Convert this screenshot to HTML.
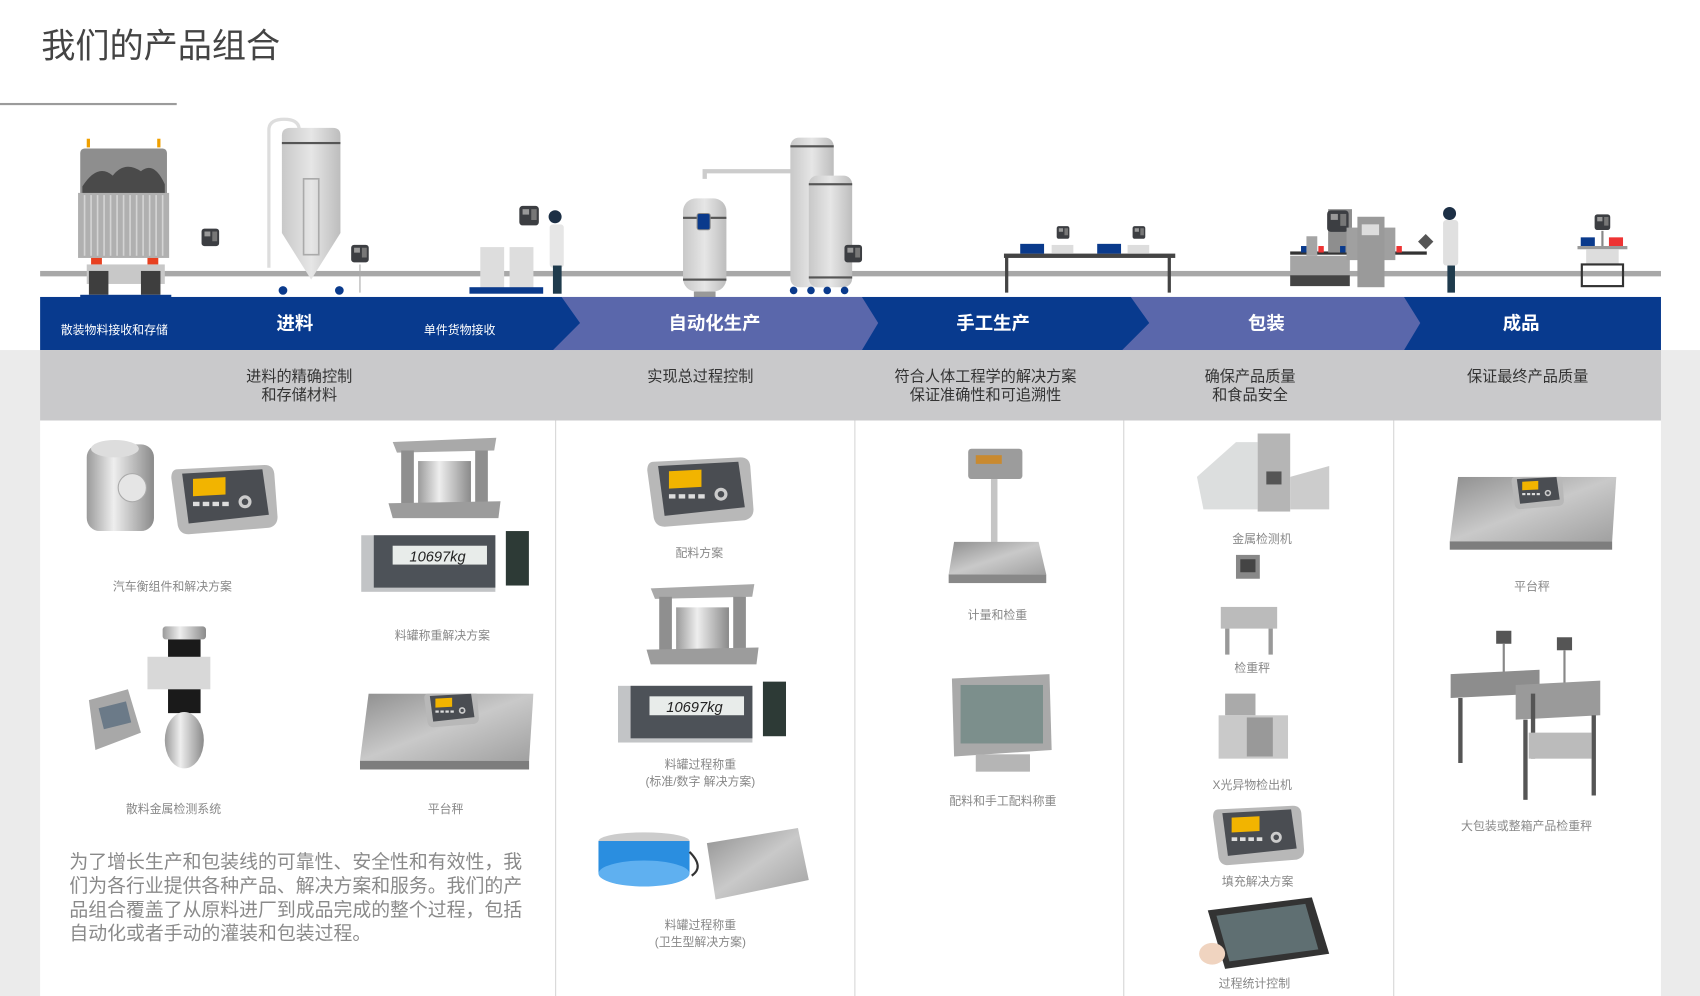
<!DOCTYPE html>
<html><head><meta charset="utf-8">
<style>
html,body{margin:0;padding:0;background:#fff;}
svg{display:block;}
text{font-family:"Liberation Sans","Noto Sans CJK SC",sans-serif;}
</style></head>
<body>
<svg width="1700" height="996" viewBox="0 0 1568 919" preserveAspectRatio="none" xmlns="http://www.w3.org/2000/svg">
<defs>
<linearGradient id="metal" x1="0" y1="0" x2="1" y2="0">
<stop offset="0" stop-color="#9a9a9a"/><stop offset="0.4" stop-color="#eeeeee"/><stop offset="1" stop-color="#8a8a8a"/></linearGradient>
<linearGradient id="plate" x1="0" y1="0" x2="1" y2="1">
<stop offset="0" stop-color="#8f8f8f"/><stop offset="0.5" stop-color="#c9c9c9"/><stop offset="1" stop-color="#a0a0a0"/></linearGradient>
<linearGradient id="silo" x1="0" y1="0" x2="1" y2="0">
<stop offset="0" stop-color="#c8c8c8"/><stop offset="0.5" stop-color="#e6e6e6"/><stop offset="1" stop-color="#bdbdbd"/></linearGradient>
<symbol id="term" viewBox="0 0 100 70">
<path d="M8 8 L88 4 Q96 4 97 12 L100 52 Q100 60 92 62 L18 68 Q10 68 8 60 L2 16 Q2 8 8 8Z" fill="#b8b8b8"/>
<path d="M12 12 L86 8 L92 50 L18 58Z" fill="#4a4d52"/>
<rect x="22" y="18" width="30" height="16" fill="#f2b400" transform="skewY(-3)"/>
<rect x="22" y="38" width="6" height="4" fill="#ddd"/><rect x="31" y="38" width="6" height="4" fill="#ddd"/><rect x="40" y="38" width="6" height="4" fill="#ddd"/><rect x="49" y="38" width="6" height="4" fill="#ddd"/>
<circle cx="70" cy="38" r="6" fill="#ccc"/><circle cx="70" cy="38" r="3" fill="#4a4d52"/>
</symbol>
<symbol id="ind" viewBox="0 0 160 60">
<rect x="0" y="4" width="128" height="54" fill="#c2c4c6"/>
<rect x="12" y="4" width="116" height="50" fill="#4d5258"/>
<rect x="30" y="14" width="90" height="18" fill="#e8ecea"/>
<text x="46" y="29" font-size="14" fill="#222" font-family="Liberation Mono,monospace" font-style="italic">10697kg</text>
<rect x="138" y="0" width="22" height="52" fill="#2d3a36"/>
</symbol>
<symbol id="mount" viewBox="0 0 110 80">
<path d="M6 6 L104 2 L102 14 L10 16Z" fill="#a9a9a9"/>
<rect x="14" y="14" width="12" height="52" fill="#8f8f8f"/><rect x="84" y="14" width="12" height="52" fill="#8f8f8f"/>
<rect x="30" y="24" width="50" height="42" fill="url(#metal)"/>
<path d="M2 64 L108 62 L106 78 L6 78Z" fill="#9c9c9c"/>
</symbol>
<symbol id="plat" viewBox="0 0 160 75">
<path d="M8 0 L160 0 L156 62 L0 62Z" fill="url(#plate)"/>
<rect x="0" y="62" width="156" height="8" fill="#7d7d7d"/>
<g transform="translate(56,-4)"><use href="#term" width="56" height="36"/></g>
</symbol>
<symbol id="ticon" viewBox="0 0 20 20">
<rect x="1" y="1" width="18" height="18" rx="3" fill="#3c3e42"/><rect x="4" y="4" width="6" height="5" fill="#999"/><rect x="12" y="4" width="5" height="10" fill="#777"/>
</symbol>
</defs>

<rect x="0" y="0" width="1568" height="919" fill="#fff"/>
<rect x="0" y="323" width="1568" height="596" fill="#ebebeb"/>

<text x="38" y="53" font-size="31.5" fill="#444">我们的产品组合</text>
<rect x="0" y="95" width="163" height="2" fill="#9b9b9b"/>

<rect x="37" y="250" width="1495" height="5" fill="#a8a8a8"/>

<!-- truck -->
<rect x="80" y="128" width="3" height="8" fill="#f0a000"/><rect x="145" y="128" width="3" height="8" fill="#f0a000"/>
<rect x="74" y="137" width="80" height="50" rx="4" fill="#8e8e8e"/>
<path d="M76 172 Q90 150 104 162 Q115 148 130 158 Q142 148 152 170 L152 180 L76 180Z" fill="#4a4a4a"/>
<rect x="72" y="178" width="84" height="60" fill="#b0b0b0"/>
<g stroke="#d4d4d4" stroke-width="1.5">
<line x1="78" y1="180" x2="78" y2="236"/><line x1="84" y1="180" x2="84" y2="236"/><line x1="90" y1="180" x2="90" y2="236"/><line x1="96" y1="180" x2="96" y2="236"/><line x1="102" y1="180" x2="102" y2="236"/><line x1="108" y1="180" x2="108" y2="236"/><line x1="114" y1="180" x2="114" y2="236"/><line x1="120" y1="180" x2="120" y2="236"/><line x1="126" y1="180" x2="126" y2="236"/><line x1="132" y1="180" x2="132" y2="236"/><line x1="138" y1="180" x2="138" y2="236"/><line x1="144" y1="180" x2="144" y2="236"/><line x1="150" y1="180" x2="150" y2="236"/></g>
<rect x="84" y="238" width="10" height="6" fill="#e84020"/><rect x="136" y="238" width="10" height="6" fill="#e84020"/>
<rect x="80" y="244" width="72" height="18" fill="#c8c8c8"/>
<rect x="82" y="250" width="18" height="22" fill="#3e3e3e"/><rect x="130" y="250" width="18" height="22" fill="#3e3e3e"/>
<rect x="74" y="272" width="84" height="3" fill="#0a3a8c"/>
<circle cx="78" cy="279" r="4" fill="#0a3a8c"/><circle cx="155" cy="279" r="4" fill="#0a3a8c"/>
<rect x="72" y="284" width="88" height="6" fill="#aaa"/>
<use href="#ticon" x="185" y="210" width="18" height="18"/>
<!-- silo -->
<path d="M248 247 L248 120 Q248 110 262 110 Q276 110 276 120" fill="none" stroke="#ddd" stroke-width="3"/>
<path d="M260 125 Q260 118 268 118 L307 118 Q314 118 314 125 L314 215 L287 258 L260 215Z" fill="url(#silo)"/>
<rect x="260" y="131" width="54" height="2" fill="#555"/>
<rect x="280" y="165" width="14" height="70" fill="none" stroke="#aaa" stroke-width="1.5"/>
<circle cx="261" cy="268" r="4" fill="#0a3a8c"/><circle cx="313" cy="268" r="4" fill="#0a3a8c"/>
<use href="#ticon" x="323" y="224" width="18" height="20"/>
<line x1="332" y1="244" x2="332" y2="270" stroke="#aaa"/>
<!-- containers & worker -->
<rect x="443" y="228" width="22" height="38" fill="#ddd"/><rect x="470" y="228" width="22" height="38" fill="#ddd"/>
<rect x="433" y="265" width="68" height="6" fill="#0a3a8c"/>
<use href="#ticon" x="478" y="188" width="20" height="22"/>
<circle cx="512" cy="200" r="6" fill="#1c2f45"/>
<rect x="507" y="207" width="13" height="40" rx="3" fill="#e6e6e6"/>
<rect x="510" y="245" width="8" height="26" fill="#1f3b4d"/>
<!-- vessels -->
<path d="M650 165 L650 158 L735 158" fill="none" stroke="#ccc" stroke-width="4"/>
<rect x="630" y="183" width="40" height="86" rx="12" fill="url(#silo)"/>
<rect x="630" y="200" width="40" height="2" fill="#555"/><rect x="630" y="257" width="40" height="2" fill="#555"/>
<rect x="643" y="197" width="12" height="15" rx="2" fill="#0a3a8c" stroke="#888"/>
<rect x="640" y="269" width="20" height="10" fill="#999"/>
<rect x="729" y="127" width="40" height="138" rx="8" fill="url(#silo)"/>
<rect x="729" y="134" width="40" height="2" fill="#555"/>
<rect x="746" y="162" width="40" height="103" rx="8" fill="url(#silo)"/>
<rect x="746" y="169" width="40" height="2" fill="#555"/><rect x="746" y="255" width="40" height="2" fill="#555"/>
<circle cx="732" cy="268" r="3.5" fill="#0a3a8c"/><circle cx="748" cy="268" r="3.5" fill="#0a3a8c"/><circle cx="763" cy="268" r="3.5" fill="#0a3a8c"/><circle cx="779" cy="268" r="3.5" fill="#0a3a8c"/>
<use href="#ticon" x="778" y="224" width="18" height="20"/>
<!-- table -->
<rect x="926" y="234" width="158" height="4" fill="#444"/>
<rect x="927" y="236" width="3" height="34" fill="#444"/><rect x="1077" y="236" width="3" height="34" fill="#444"/>
<rect x="941" y="225" width="22" height="9" fill="#0a3a8c"/><rect x="1012" y="225" width="22" height="9" fill="#0a3a8c"/>
<rect x="970" y="226" width="20" height="8" fill="#ddd"/><rect x="1040" y="226" width="20" height="8" fill="#ddd"/>
<use href="#ticon" x="974" y="208" width="13" height="13"/><use href="#ticon" x="1044" y="208" width="13" height="13"/>
<!-- packaging line -->
<rect x="1190" y="232" width="126" height="3" fill="#333"/>
<rect x="1190" y="236" width="55" height="18" fill="#a5a5a5"/><rect x="1190" y="254" width="55" height="10" fill="#444"/>
<rect x="1205" y="218" width="10" height="18" fill="#a5a5a5"/>
<rect x="1225" y="193" width="22" height="40" fill="#8e8e8e"/>
<use href="#ticon" x="1222" y="193" width="24" height="22"/>
<rect x="1242" y="210" width="45" height="30" fill="#a0a0a0"/>
<rect x="1252" y="200" width="25" height="65" fill="#9a9a9a"/>
<rect x="1256" y="207" width="16" height="10" fill="#ddd"/>
<rect x="1200" y="227" width="5" height="6" fill="#0a3a8c"/><rect x="1216" y="227" width="5" height="6" fill="#e33"/><rect x="1236" y="227" width="5" height="6" fill="#0a3a8c"/><rect x="1288" y="227" width="5" height="6" fill="#e33"/>
<circle cx="1337" cy="197" r="6" fill="#1c2f45"/>
<rect x="1331" y="203" width="14" height="42" rx="3" fill="#e0e0e0"/>
<rect x="1335" y="245" width="7" height="25" fill="#1f3b4d"/>
<rect x="1310" y="218" width="10" height="10" fill="#555" transform="rotate(45 1315 223)"/>
<!-- finished -->
<use href="#ticon" x="1470" y="197" width="16" height="16"/>
<rect x="1477" y="213" width="2" height="15" fill="#888"/>
<rect x="1458" y="219" width="13" height="8" fill="#0a3a8c"/><rect x="1484" y="219" width="13" height="8" fill="#e33"/>
<rect x="1455" y="227" width="46" height="3" fill="#999"/>
<rect x="1463" y="230" width="30" height="14" fill="#ddd"/>
<rect x="1459" y="244" width="38" height="20" fill="none" stroke="#333" stroke-width="2"/>

<!-- blue chevron band -->
<rect x="37" y="274" width="1495" height="49" fill="#083a8e"/>
<path d="M518 274 L795 274 L810 298 L795 323 L510 323 L535 298Z" fill="#5a67ab"/>
<path d="M1043 274 L1295 274 L1310 298 L1295 323 L1035 323 L1060 298Z" fill="#5a67ab"/>
<text x="56" y="308" font-size="11" fill="#fff">散装物料接收和存储</text>
<text x="272" y="304" font-size="17" fill="#fff" text-anchor="middle" font-weight="bold">进料</text>
<text x="391" y="308" font-size="11" fill="#fff">单件货物接收</text>
<text x="659" y="304" font-size="17" fill="#fff" text-anchor="middle" font-weight="bold">自动化生产</text>
<text x="916" y="304" font-size="17" fill="#fff" text-anchor="middle" font-weight="bold">手工生产</text>
<text x="1168" y="304" font-size="17" fill="#fff" text-anchor="middle" font-weight="bold">包装</text>
<text x="1403" y="304" font-size="17" fill="#fff" text-anchor="middle" font-weight="bold">成品</text>

<rect x="37" y="323" width="1495" height="65" fill="#c9c9cb"/>
<g font-size="14" fill="#333" text-anchor="middle">
<text x="276" y="352">进料的精确控制</text><text x="276" y="369">和存储材料</text>
<text x="646" y="352">实现总过程控制</text>
<text x="909" y="352">符合人体工程学的解决方案</text><text x="909" y="369">保证准确性和可追溯性</text>
<text x="1153" y="352">确保产品质量</text><text x="1153" y="369">和食品安全</text>
<text x="1409" y="352">保证最终产品质量</text>
</g>

<rect x="37" y="388" width="1495" height="531" fill="#fff"/>
<g fill="#d6d6d6">
<rect x="512" y="388" width="1" height="531"/><rect x="788" y="388" width="1" height="531"/>
<rect x="1036" y="388" width="1" height="531"/><rect x="1285" y="388" width="1" height="531"/>
</g>

<!-- column 1 -->
<rect x="80" y="410" width="62" height="80" rx="12" fill="url(#metal)"/>
<ellipse cx="106" cy="414" rx="22" ry="8" fill="#ddd"/>
<circle cx="122" cy="450" r="13" fill="#e5e5e5" stroke="#aaa"/>
<use href="#term" x="155" y="425" width="102" height="70"/>
<use href="#mount" x="355" y="402" width="110" height="78"/>
<use href="#ind" x="333" y="490" width="155" height="58"/>
<rect x="150" y="578" width="40" height="12" rx="3" fill="url(#metal)"/>
<rect x="155" y="590" width="30" height="18" fill="#1a1a1a"/>
<rect x="136" y="606" width="58" height="30" fill="#d8d8d8"/>
<rect x="155" y="636" width="30" height="22" fill="#1a1a1a"/>
<ellipse cx="170" cy="683" rx="18" ry="26" fill="url(#metal)"/>
<path d="M82 646 L118 636 L130 676 L88 692Z" fill="#a8a8a8"/>
<rect x="93" y="650" width="26" height="20" fill="#6b7a88" transform="rotate(-14 106 660)"/>
<use href="#plat" x="332" y="640" width="160" height="75"/>
<g font-size="11" fill="#888" text-anchor="middle">
<text x="159" y="545">汽车衡组件和解决方案</text>
<text x="408" y="590">料罐称重解决方案</text>
<text x="160" y="750">散料金属检测系统</text>
<text x="411" y="750">平台秤</text>
</g>
<g font-size="17.4" fill="#8a8a8a">
<text x="64" y="801">为了增长生产和包装线的可靠性、安全性和有效性，我</text>
<text x="64" y="823">们为各行业提供各种产品、解决方案和服务。我们的产</text>
<text x="64" y="845">品组合覆盖了从原料进厂到成品完成的整个过程，包括</text>
<text x="64" y="867">自动化或者手动的灌装和包装过程。</text>
</g>

<!-- column 2 -->
<use href="#term" x="594" y="418" width="102" height="70"/>
<use href="#mount" x="593" y="537" width="110" height="78"/>
<use href="#ind" x="570" y="628" width="155" height="60"/>
<ellipse cx="594" cy="776" rx="42" ry="8" fill="#ccc"/>
<rect x="552" y="776" width="84" height="30" fill="#2a8ee0"/>
<ellipse cx="594" cy="806" rx="42" ry="12" fill="#5fb0f0"/>
<path d="M636 786 Q650 800 638 808" stroke="#333" fill="none" stroke-width="2"/>
<path d="M652 778 L736 764 L746 812 L660 830Z" fill="url(#plate)"/>
<g font-size="11" fill="#888" text-anchor="middle">
<text x="645" y="514">配料方案</text>
<text x="646" y="709">料罐过程称重</text>
<text x="646" y="725">(标准/数字 解决方案)</text>
<text x="646" y="857">料罐过程称重</text>
<text x="646" y="873">(卫生型解决方案)</text>
</g>

<!-- column 3 -->
<rect x="893" y="414" width="50" height="28" rx="3" fill="#9c9c9c"/><rect x="900" y="420" width="24" height="8" fill="#c98a30"/>
<rect x="914" y="442" width="6" height="60" fill="#c5c5c5"/>
<path d="M880 500 L958 500 L965 530 L875 530Z" fill="url(#plate)"/>
<rect x="875" y="530" width="90" height="8" fill="#888"/>
<path d="M878 626 L968 622 L970 692 L880 698Z" fill="#a9a9a9"/>
<rect x="886" y="632" width="76" height="54" fill="#7c8f8c"/>
<rect x="900" y="696" width="50" height="16" fill="#b5b5b5"/>
<g font-size="11" fill="#888" text-anchor="middle">
<text x="920" y="571">计量和检重</text>
<text x="925" y="743">配料和手工配料称重</text>
</g>

<!-- column 4 -->
<path d="M1104 440 L1140 408 L1160 408 L1160 470 L1110 470Z" fill="#d8dada" opacity="0.9"/>
<rect x="1160" y="400" width="30" height="72" fill="#b5b5b5"/><rect x="1168" y="435" width="14" height="12" fill="#555"/>
<path d="M1190 440 L1226 430 L1226 470 L1190 470Z" fill="#ccc"/>
<rect x="1140" y="512" width="22" height="22" fill="#888"/><rect x="1144" y="516" width="14" height="12" fill="#444"/>
<rect x="1126" y="560" width="52" height="20" fill="#bbb"/>
<rect x="1130" y="580" width="4" height="24" fill="#999"/><rect x="1170" y="580" width="4" height="24" fill="#999"/>
<rect x="1130" y="640" width="28" height="20" fill="#aaa"/>
<rect x="1124" y="660" width="64" height="40" fill="#c9c9c9"/>
<rect x="1150" y="662" width="24" height="36" fill="#999"/>
<use href="#term" x="1110" y="740" width="100" height="60"/>
<path d="M1114 840 L1210 828 L1226 880 L1130 894Z" fill="#333"/>
<path d="M1122 845 L1204 834 L1216 876 L1134 887Z" fill="#5f6f72"/>
<ellipse cx="1118" cy="880" rx="12" ry="10" fill="#f0d4c0"/>
<g font-size="11" fill="#888" text-anchor="middle">
<text x="1164" y="501">金属检测机</text>
<text x="1155" y="620">检重秤</text>
<text x="1155" y="728">X光异物检出机</text>
<text x="1160" y="817">填充解决方案</text>
<text x="1157" y="911">过程统计控制</text>
</g>

<!-- column 5 -->
<use href="#plat" x="1333" y="440" width="162" height="72"/>
<rect x="1380" y="582" width="14" height="12" fill="#555"/><rect x="1386" y="594" width="2" height="30" fill="#888"/>
<rect x="1436" y="588" width="14" height="12" fill="#555"/><rect x="1442" y="600" width="2" height="30" fill="#888"/>
<path d="M1338 622 L1420 618 L1420 640 L1338 644Z" fill="#8d8d8d"/>
<path d="M1398 632 L1476 628 L1476 660 L1398 664Z" fill="#9a9a9a"/>
<rect x="1345" y="644" width="4" height="60" fill="#555"/><rect x="1412" y="640" width="4" height="60" fill="#555"/>
<rect x="1405" y="664" width="4" height="74" fill="#555"/><rect x="1468" y="660" width="4" height="74" fill="#555"/>
<rect x="1410" y="676" width="58" height="24" fill="#bbb"/>
<g font-size="11" fill="#888" text-anchor="middle">
<text x="1413" y="545">平台秤</text>
<text x="1408" y="766">大包装或整箱产品检重秤</text>
</g>
</svg>
</body></html>
